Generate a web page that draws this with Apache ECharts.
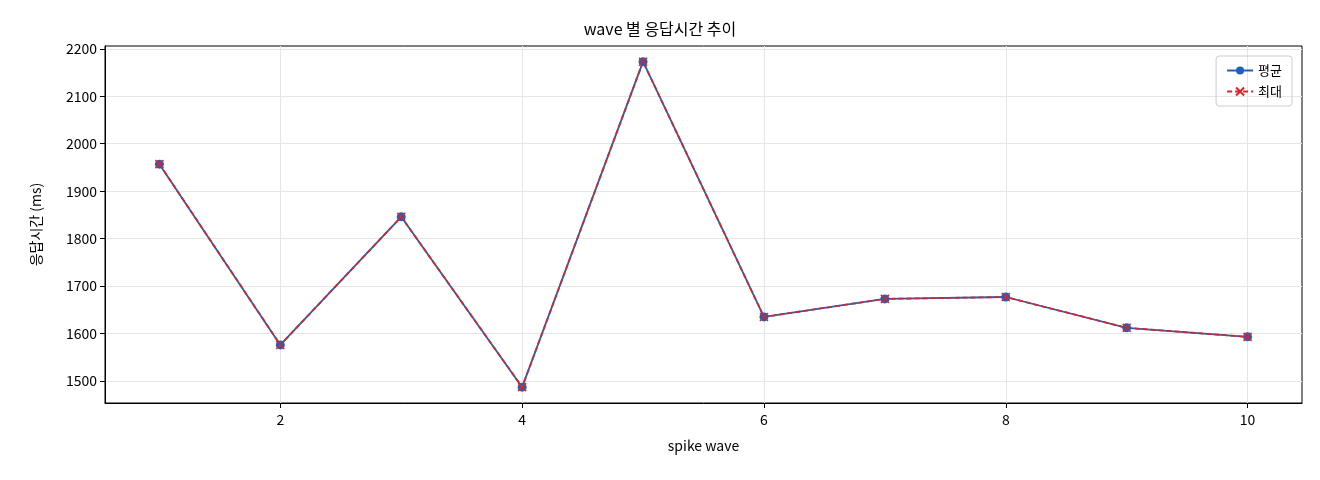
<!DOCTYPE html>
<html><head><meta charset="utf-8">
<script src="https://cdn.jsdelivr.net/npm/echarts@6/dist/echarts.min.js"></script>
<style>html,body{margin:0;padding:0;background:#fff}#c{width:1320px;height:480px}</style>
</head><body><div id="c"></div>
<script>
const waves = [1,2,3,4,5,6,7,8,9,10];
const avgValues = [1957,1576,1846,1487,2173,1635,1673,1677,1612,1593];
const maxValues = [1957,1576,1846,1487,2173,1635,1673,1677,1612,1593];
const xTicks = [2,4,6,8,10];
const yTicks = [1500,1600,1700,1800,1900,2000,2100,2200];
const F = '"Noto Sans CJK KR", "DejaVu Sans", sans-serif';
const xPath = 'path://M0,0L10,10M10,0L0,10';
const chart = echarts.init(document.getElementById('c'));
chart.setOption({
  animation:false,
  textStyle:{fontFamily:F},
  title:{text:'wave 별 응답시간 추이',left:'center',top:16,textStyle:{fontSize:16,fontWeight:'normal',color:'#000',fontFamily:F}},
  grid:{left:105,right:18,top:46,bottom:77,show:true,borderColor:'#000',borderWidth:1},
  legend:{right:28,top:56,orient:'vertical',itemGap:8,itemWidth:26,itemHeight:10,
    borderColor:'#ccc',borderWidth:1,borderRadius:3,padding:[8,10],
    textStyle:{fontSize:13,color:'#000',fontFamily:F},
    data:[{name:'평균'},{name:'최대'}]},
  xAxis:{type:'value',min:0.55,max:10.45,name:'spike wave',nameLocation:'middle',nameGap:36,
    nameTextStyle:{fontSize:14,color:'#000'},
    axisLine:{lineStyle:{color:'#000'}},
    axisTick:{show:true,customValues:xTicks,length:5,lineStyle:{color:'#000'}},
    axisLabel:{customValues:xTicks,fontSize:14,color:'#000',margin:10},
    splitLine:{show:true,lineStyle:{color:'#e6e6e6'}}},
  yAxis:{type:'value',min:1453.6,max:2206,name:'응답시간 (ms)',nameLocation:'middle',nameGap:62,
    nameTextStyle:{fontSize:14,color:'#000'},
    axisLine:{show:true,lineStyle:{color:'#000'}},
    axisTick:{show:true,customValues:yTicks,length:5,lineStyle:{color:'#000'}},
    axisLabel:{customValues:yTicks,fontSize:14,color:'#000',margin:8,formatter:v=>String(Math.round(v))},
    splitLine:{show:true,lineStyle:{color:'#e6e6e6'}}},
  series:[
    {name:'평균',type:'line',data:waves.map((w,i)=>[w,avgValues[i]]),symbol:'circle',symbolSize:9,
      lineStyle:{color:'#1f5fbf',width:1.8},itemStyle:{color:'#1f5fbf'}},
    {name:'최대',type:'line',data:waves.map((w,i)=>[w,maxValues[i]]),symbol:xPath,symbolSize:8,
      lineStyle:{color:'#d62728',width:1.8,type:[5,3]},itemStyle:{color:'#d62728',borderColor:'#d62728',borderWidth:1.5}}
  ]
});
</script></body></html>
